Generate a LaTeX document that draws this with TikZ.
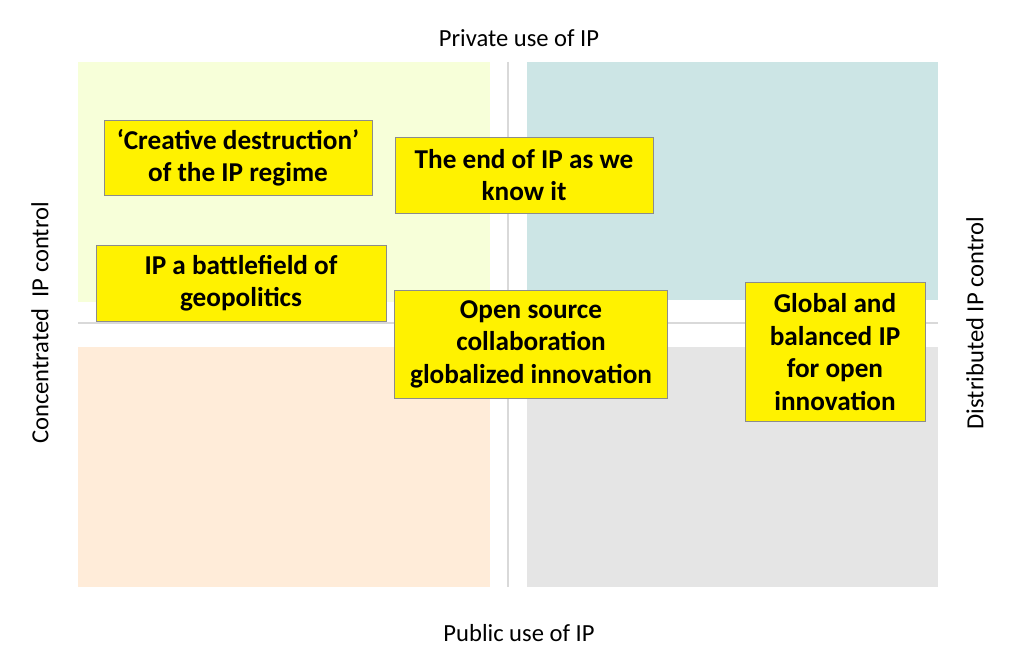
\documentclass[tikz,border=0pt]{standalone}
\usepackage{fontspec}
\setmainfont{Carlito}
\tikzset{%
  % quadrant backgrounds and boxes
  scen/.style = {rectangle, draw=black!45, fill=yellow, align=center,
                 font=\fontsize{15.5}{18.5}\selectfont\bfseries, inner sep=2pt},
  axislabel/.style = {font=\fontsize{14}{16}\selectfont}
}
\begin{document}
\begin{tikzpicture}[x=0.02cm, y=-0.02cm]
  \useasboundingbox (0,0) rectangle (1011,668);
  \fill[green!20!yellow!15!white] (78,62) rectangle (490,302);
  \fill[teal!20!white] (527,62) rectangle (938,300);
  \fill[orange!15!white] (78,347) rectangle (490,587);
  \fill[black!10] (527,347) rectangle (938,587);
  \draw[black!15, line width=1pt] (508,62) -- (508,587);
  \draw[black!15, line width=1pt] (78,323) -- (938,323);

  \node (priv) [axislabel] at (519,38) {Private use of IP};
  \node (publ) [axislabel] at (519,633) {Public use of IP};
  \node (conc) [axislabel, rotate=90] at (40,323) {Concentrated\ \ IP control};
  \node (dist) [axislabel, rotate=90] at (975,323) {Distributed IP control};

  \node (creative) [scen, minimum width=5.36cm, minimum height=1.5cm] at (238,158)
    {‘Creative destruction’\\of the IP regime};
  \node (endip) [scen, minimum width=5.16cm, minimum height=1.52cm] at (524,175)
    {The end of IP as we\\know it};
  \node (battle) [scen, minimum width=5.8cm, minimum height=1.52cm] at (241,283)
    {IP a battlefield of\\geopolitics};
  \node (open) [scen, minimum width=5.46cm, minimum height=2.16cm] at (531,344)
    {Open source\\collaboration\\globalized innovation};
  \node (global) [scen, minimum width=3.6cm, minimum height=2.78cm] at (835,352)
    {Global and\\balanced IP\\for open\\innovation};
\end{tikzpicture}
\end{document}
